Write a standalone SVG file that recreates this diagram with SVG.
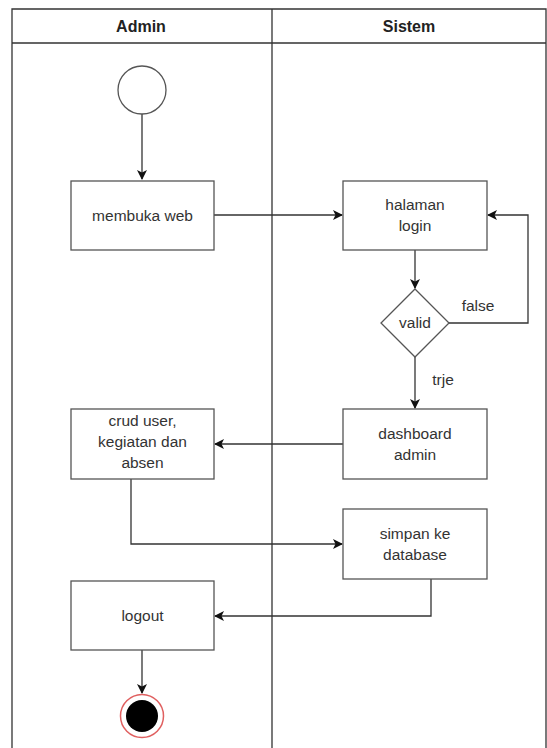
<svg xmlns="http://www.w3.org/2000/svg" width="547" height="748" viewBox="0 0 547 748">
<defs>
<marker id="arr" viewBox="0 0 10 10" refX="9" refY="5" markerWidth="10" markerHeight="10" markerUnits="userSpaceOnUse" orient="auto">
<path d="M0,0 L10,5 L0,10 L2.5,5 Z" fill="#111"/>
</marker>
</defs>
<style>
.lane{fill:none;stroke:#333;stroke-width:1.3}
.box{fill:#fff;stroke:#555;stroke-width:1.3}
.t{font-family:"Liberation Sans",Arial,sans-serif;font-size:15.5px;fill:#333;text-anchor:middle}
.h{font-family:"Liberation Sans",Arial,sans-serif;font-size:16px;font-weight:bold;fill:#222;text-anchor:middle}
.c{fill:none;stroke:#333;stroke-width:1.3}
</style>
<rect width="547" height="748" fill="#fff"/>
<g id="pool">
<path class="lane" d="M12,748 V9 H546 V748 M12,43 H546 M272,9 V748"/>
<text class="h" x="141" y="32">Admin</text>
<text class="h" x="409" y="32">Sistem</text>
</g>
<g id="connectors">
<path class="c" d="M142,114 V179" marker-end="url(#arr)"/>
<path class="c" d="M214,215 H342" marker-end="url(#arr)"/>
<path class="c" d="M415,250 V288" marker-end="url(#arr)"/>
<path class="c" d="M449,323 H528 V215 H488" marker-end="url(#arr)"/>
<path class="c" d="M415,357 V408" marker-end="url(#arr)"/>
<path class="c" d="M343,444 H215" marker-end="url(#arr)"/>
<path class="c" d="M131,479 V544 H342" marker-end="url(#arr)"/>
<path class="c" d="M431,579 V616 H215" marker-end="url(#arr)"/>
<path class="c" d="M142,650 V693" marker-end="url(#arr)"/>
<text class="t" x="478" y="311">false</text>
<text class="t" x="443" y="385">trje</text>
</g>
<g id="start"><circle cx="142" cy="90" r="24" fill="#fff" stroke="#555" stroke-width="1.3"/></g>
<g id="membuka"><rect class="box" x="71" y="181" width="143" height="69"/><text class="t" x="142.5" y="220.5">membuka web</text></g>
<g id="login"><rect class="box" x="343" y="181" width="144" height="69"/><text class="t" x="415" y="210">halaman</text><text class="t" x="415" y="231">login</text></g>
<g id="valid"><polygon class="box" points="415,289 449,323 415,357 381,323"/><text class="t" x="415" y="328">valid</text></g>
<g id="dashboard"><rect class="box" x="343" y="409" width="144" height="70"/><text class="t" x="415" y="439">dashboard</text><text class="t" x="415" y="460">admin</text></g>
<g id="crud"><rect class="box" x="71" y="409" width="143" height="70"/><text class="t" x="142.5" y="426">crud user,</text><text class="t" x="142.5" y="447">kegiatan dan</text><text class="t" x="142.5" y="468">absen</text></g>
<g id="simpan"><rect class="box" x="343" y="509" width="144" height="70"/><text class="t" x="415" y="539">simpan ke</text><text class="t" x="415" y="560">database</text></g>
<g id="logout"><rect class="box" x="71" y="581" width="143" height="69"/><text class="t" x="142.5" y="621">logout</text></g>
<g id="end"><circle cx="142" cy="716" r="21.5" fill="#fff" stroke="#e06060" stroke-width="1.5"/><circle cx="142" cy="716" r="16" fill="#000"/></g>
</svg>
